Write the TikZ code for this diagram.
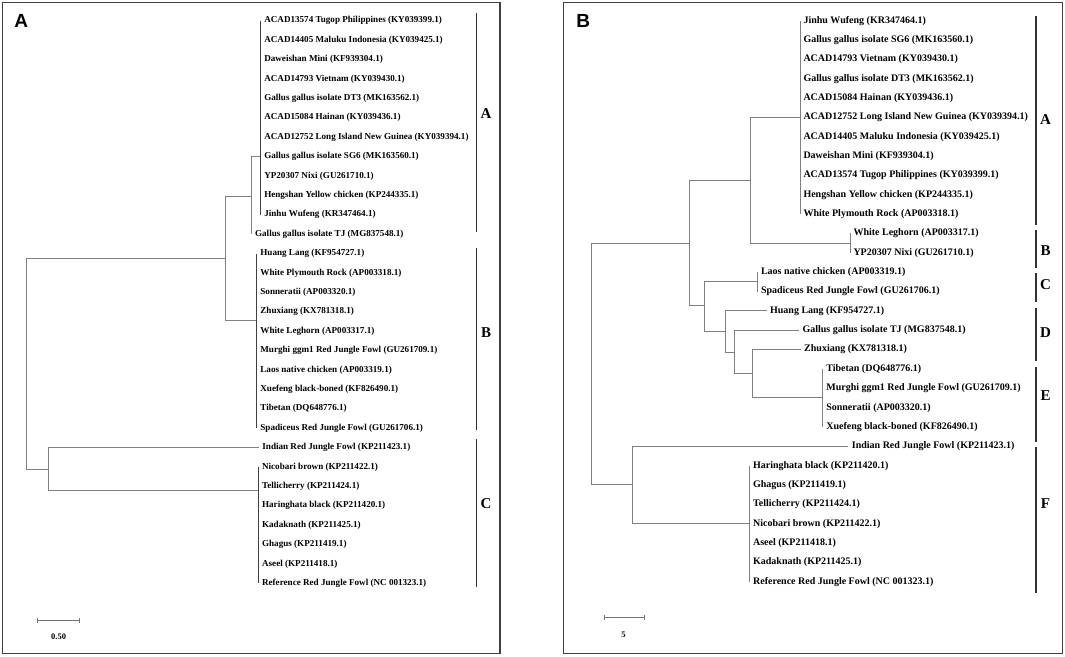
\documentclass[tikz,border=0pt]{standalone}
\usepackage{fontspec}
\setmainfont{Liberation Serif}
\newfontfamily\panelfont{Liberation Sans}
\begin{document}
\begin{tikzpicture}[x=1pt,y=-1pt,
  leafA/.style={anchor=west,inner xsep=3.4pt,inner ysep=0.5pt,font=\fontsize{9.1}{10}\selectfont\bfseries},
  leafB/.style={anchor=west,inner xsep=3.3pt,inner ysep=0.5pt,font=\fontsize{10}{11}\selectfont\bfseries},
  br/.style={draw=black!50,line width=1pt},
  grp/.style={draw=black!75,line width=1pt},
  cbar/.style={draw=black!80,line width=1.5pt},
  clab/.style={font=\fontsize{15}{15}\selectfont\bfseries,inner sep=0pt},
  plab/.style={font=\panelfont\fontsize{19}{19}\selectfont\bfseries,inner sep=0pt},
  frame/.style={draw=black!75,line width=1.2pt},
  sbar/.style={draw=black!55,line width=0.9pt},
  slab/.style={font=\fontsize{8.5}{9}\selectfont\bfseries,inner sep=0pt}]
\useasboundingbox (0,0) rectangle (1065,656);
\fill[white] (0,0) rectangle (1065,656);
% ---------------- frames and panel letters
\draw[frame] (2.7,2.7) rectangle (500,653.3);
\draw[frame] (563.4,2.5) rectangle (1062.7,653.3);
\node[plab] (PA) at (21.2,20.8) {A};
\node[plab] (PB) at (583.3,20.8) {B};
% ================= PANEL A =================
\newcommand\lfA[4]{\node[leafA] (#1) at (#2,{20.7+19.4*#3}) {#4};}
\lfA{a0}{260.7}{0}{ACAD13574 Tugop Philippines (KY039399.1)}
\lfA{a1}{260.7}{1}{ACAD14405 Maluku Indonesia (KY039425.1)}
\lfA{a2}{260.7}{2}{Daweishan Mini (KF939304.1)}
\lfA{a3}{260.7}{3}{ACAD14793 Vietnam (KY039430.1)}
\lfA{a4}{260.7}{4}{Gallus gallus isolate DT3 (MK163562.1)}
\lfA{a5}{260.7}{5}{ACAD15084 Hainan (KY039436.1)}
\lfA{a6}{260.7}{6}{ACAD12752 Long Island New Guinea (KY039394.1)}
\lfA{a7}{260.7}{7}{Gallus gallus isolate SG6 (MK163560.1)}
\lfA{a8}{260.7}{8}{YP20307 Nixi (GU261710.1)}
\lfA{a9}{260.7}{9}{Hengshan Yellow chicken (KP244335.1)}
\lfA{a10}{260.7}{10}{Jinhu Wufeng (KR347464.1)}
\lfA{a11}{251.5}{11}{Gallus gallus isolate TJ (MG837548.1)}
\lfA{a12}{256.8}{12}{Huang Lang (KF954727.1)}
\lfA{a13}{256.8}{13}{White Plymouth Rock (AP003318.1)}
\lfA{a14}{256.8}{14}{Sonneratii (AP003320.1)}
\lfA{a15}{256.8}{15}{Zhuxiang (KX781318.1)}
\lfA{a16}{256.8}{16}{White Leghorn (AP003317.1)}
\lfA{a17}{256.8}{17}{Murghi ggm1 Red Jungle Fowl (GU261709.1)}
\lfA{a18}{256.8}{18}{Laos native chicken (AP003319.1)}
\lfA{a19}{256.8}{19}{Xuefeng black-boned (KF826490.1)}
\lfA{a20}{256.8}{20}{Tibetan (DQ648776.1)}
\lfA{a21}{256.8}{21}{Spadiceus Red Jungle Fowl (GU261706.1)}
\lfA{a22}{258.8}{22}{Indian Red Jungle Fowl (KP211423.1)}
\lfA{a23}{258.5}{23}{Nicobari brown (KP211422.1)}
\lfA{a24}{258.5}{24}{Tellicherry (KP211424.1)}
\lfA{a25}{258.5}{25}{Haringhata black (KP211420.1)}
\lfA{a26}{258.5}{26}{Kadaknath (KP211425.1)}
\lfA{a27}{258.5}{27}{Ghagus (KP211419.1)}
\lfA{a28}{258.5}{28}{Aseel (KP211418.1)}
\lfA{a29}{258.5}{29}{Reference Red Jungle Fowl (NC 001323.1)}
% internal nodes
\coordinate (Aroot) at (26.5,363.5);
\coordinate (An1) at (225.1,258);
\coordinate (An2) at (251.5,196.5);
\coordinate (AgA) at (260.7,156.7);
\coordinate (AgB) at (256.8,320);
\coordinate (An3) at (48.9,469);
\coordinate (AgC) at (258.5,490.7);
\draw[br] (Aroot) |- (An1);
\draw[br] (Aroot) |- (An3);
\draw[br] (An1) |- (An2);
\draw[br] (An1) |- (AgB);
\draw[br] (An2) |- (AgA);
\draw[br] (An2) |- (a11.west);
\draw[br] (An3) |- (a22.west);
\draw[br] (An3) |- (AgC);
\draw[grp] (a0.west) -- (a10.west);
\draw[grp] (a12.west) -- (a21.west);
\draw[grp] (a23.west) -- (a29.west);
% clade bars
\draw[cbar] (476.7,13.3) -- (476.7,231.7);
\draw[cbar] (476.7,248.3) -- (476.7,430);
\draw[cbar] (476.7,439.3) -- (476.7,587.3);
\node[clab] (cAA) at (486,113.3) {A};
\node[clab] (cAB) at (486,332.7) {B};
\node[clab] (cAC) at (486,504) {C};
% scale bar
\draw[sbar] (37.9,620) -- (79.6,620);
\draw[sbar] (37.9,617.5) -- (37.9,622.5);
\draw[sbar] (79.6,617.5) -- (79.6,622.5);
\node[slab] (sA) at (58.6,636.7) {0.50};
% ================= PANEL B =================
\newcommand\lfB[4]{\node[leafB] (#1) at (#2,{20.6+19.35*#3}) {#4};}
\lfB{b0}{800}{0}{Jinhu Wufeng (KR347464.1)}
\lfB{b1}{800}{1}{Gallus gallus isolate SG6 (MK163560.1)}
\lfB{b2}{800}{2}{ACAD14793 Vietnam (KY039430.1)}
\lfB{b3}{800}{3}{Gallus gallus isolate DT3 (MK163562.1)}
\lfB{b4}{800}{4}{ACAD15084 Hainan (KY039436.1)}
\lfB{b5}{800}{5}{ACAD12752 Long Island New Guinea (KY039394.1)}
\lfB{b6}{800}{6}{ACAD14405 Maluku Indonesia (KY039425.1)}
\lfB{b7}{800}{7}{Daweishan Mini (KF939304.1)}
\lfB{b8}{800}{8}{ACAD13574 Tugop Philippines (KY039399.1)}
\lfB{b9}{800}{9}{Hengshan Yellow chicken (KP244335.1)}
\lfB{b10}{800}{10}{White Plymouth Rock (AP003318.1)}
\lfB{b11}{850}{11}{White Leghorn (AP003317.1)}
\lfB{b12}{850}{12}{YP20307 Nixi (GU261710.1)}
\lfB{b13}{757.5}{13}{Laos native chicken (AP003319.1)}
\lfB{b14}{757.5}{14}{Spadiceus Red Jungle Fowl (GU261706.1)}
\lfB{b15}{766.6}{15}{Huang Lang (KF954727.1)}
\lfB{b16}{799}{16}{Gallus gallus isolate TJ (MG837548.1)}
\lfB{b17}{800.7}{17}{Zhuxiang (KX781318.1)}
\lfB{b18}{822.8}{18}{Tibetan (DQ648776.1)}
\lfB{b19}{822.8}{19}{Murghi ggm1 Red Jungle Fowl (GU261709.1)}
\lfB{b20}{822.8}{20}{Sonneratii (AP003320.1)}
\lfB{b21}{822.8}{21}{Xuefeng black-boned (KF826490.1)}
\lfB{b22}{848.4}{22}{Indian Red Jungle Fowl (KP211423.1)}
\lfB{b23}{749.6}{23}{Haringhata black (KP211420.1)}
\lfB{b24}{749.6}{24}{Ghagus (KP211419.1)}
\lfB{b25}{749.6}{25}{Tellicherry (KP211424.1)}
\lfB{b26}{749.6}{26}{Nicobari brown (KP211422.1)}
\lfB{b27}{749.6}{27}{Aseel (KP211418.1)}
\lfB{b28}{749.6}{28}{Kadaknath (KP211425.1)}
\lfB{b29}{749.6}{29}{Reference Red Jungle Fowl (NC 001323.1)}
% internal nodes
\coordinate (Broot) at (591.3,363.6);
\coordinate (Bn1) at (689.4,243);
\coordinate (Bn2) at (750.3,180);
\coordinate (BgA) at (800,117.3);
\coordinate (BgB) at (850,243.3);
\coordinate (Bn3) at (704.7,305.7);
\coordinate (BgC) at (757.5,281.9);
\coordinate (Bn4) at (725.8,331);
\coordinate (Bn5) at (734,352.3);
\coordinate (Bn6) at (752,373.3);
\coordinate (BgE) at (822.8,397.7);
\coordinate (Bn7) at (632.2,484.3);
\coordinate (BgF) at (749.6,523.3);
\draw[br] (Broot) |- (Bn1);
\draw[br] (Broot) |- (Bn7);
\draw[br] (Bn1) |- (Bn2);
\draw[br] (Bn1) |- (Bn3);
\draw[br] (Bn2) |- (BgA);
\draw[br] (Bn2) |- (BgB);
\draw[br] (Bn3) |- (BgC);
\draw[br] (Bn3) |- (Bn4);
\draw[br] (Bn4) |- (b15.west);
\draw[br] (Bn4) |- (Bn5);
\draw[br] (Bn5) |- (b16.west);
\draw[br] (Bn5) |- (Bn6);
\draw[br] (Bn6) |- (b17.west);
\draw[br] (Bn6) |- (BgE);
\draw[br] (Bn7) |- (b22.west);
\draw[br] (Bn7) |- (BgF);
\draw[br] (b0.west) -- (b10.west);
\draw[br] (b11.west) -- (b12.west);
\draw[br] (b13.west) -- (b14.west);
\draw[br] (b18.west) -- (b21.west);
\draw[br] (b23.west) -- (b29.west);
% clade bars
\draw[cbar] (1036,16) -- (1036,225.3);
\draw[cbar] (1036,230) -- (1036,268.3);
\draw[cbar] (1036,273.3) -- (1036,301.7);
\draw[cbar] (1036,308.3) -- (1036,360.7);
\draw[cbar] (1036,367.3) -- (1036,441.5);
\draw[cbar] (1036,446.5) -- (1036,593.3);
\node[clab] (cBA) at (1045.5,119.3) {A};
\node[clab] (cBB) at (1045.5,250.7) {B};
\node[clab] (cBC) at (1045.5,285) {C};
\node[clab] (cBD) at (1045.5,332.3) {D};
\node[clab] (cBE) at (1045.5,396) {E};
\node[clab] (cBF) at (1045.5,504) {F};
% scale bar
\draw[sbar] (604.2,617.7) -- (644,617.7);
\draw[sbar] (604.2,615.2) -- (604.2,620.2);
\draw[sbar] (644,615.2) -- (644,620.2);
\node[slab] (sB) at (623.6,634.3) {5};
\end{tikzpicture}
\end{document}
